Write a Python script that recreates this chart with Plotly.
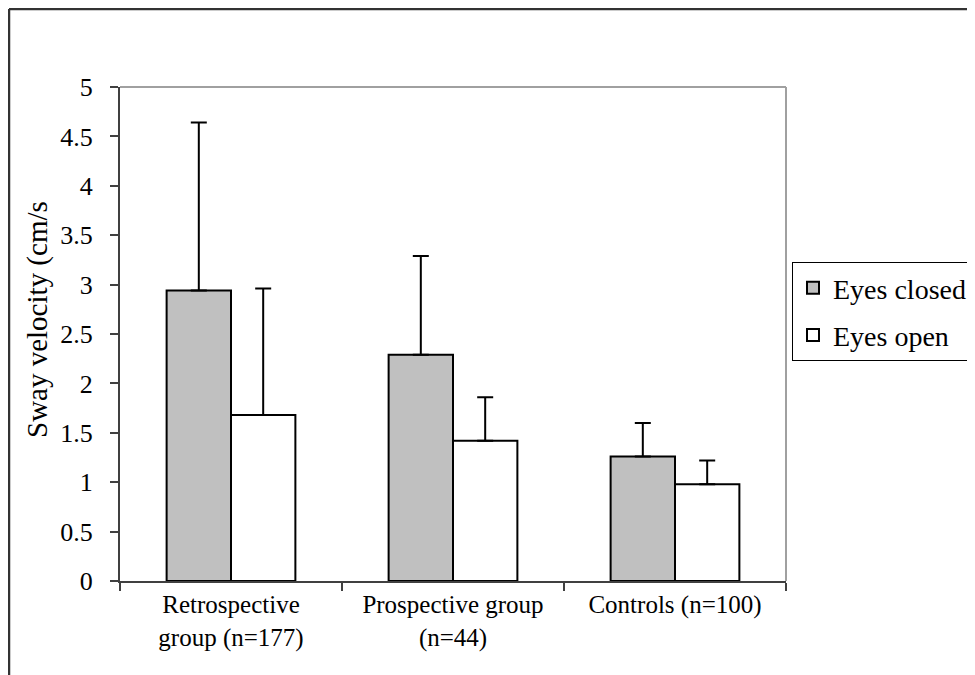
import plotly.graph_objects as go

categories = ["Retrospective<br>group (n=177)", "Prospective group<br>(n=44)", "Controls (n=100)"]
eyes_closed = [2.94, 2.29, 1.26]
eyes_closed_err = [1.70, 1.00, 0.34]
eyes_open = [1.68, 1.42, 0.98]
eyes_open_err = [1.28, 0.44, 0.24]
y_ticks = [0, 0.5, 1, 1.5, 2, 2.5, 3, 3.5, 4, 4.5, 5]

FONT = "Liberation Serif, Times New Roman, serif"

fig = go.Figure()
fig.add_trace(go.Bar(
    x=categories, y=eyes_closed, name="Eyes closed",
    marker=dict(color="#c0c0c0", line=dict(color="black", width=2)),
    error_y=dict(type="data", array=eyes_closed_err, symmetric=False,
                 arrayminus=[0, 0, 0], color="black", thickness=2, width=8),
    legendgroup="a",
))
fig.add_trace(go.Bar(
    x=categories, y=eyes_open, name="Eyes open",
    marker=dict(color="white", line=dict(color="black", width=2)),
    error_y=dict(type="data", array=eyes_open_err, symmetric=False,
                 arrayminus=[0, 0, 0], color="black", thickness=2, width=8),
    legendgroup="b",
))

# page body has an 8px margin; positions below are in figure pixels
OFF = 8
W, H = 975 - OFF, 675 - OFF
L, T = 120 - OFF, 87 - OFF
PW, PH = 666, 494
R = W - L - PW
B = H - T - PH


def px_x(x):  # screen px -> paper
    return (x - OFF - L) / PW


def px_y(y):
    return (T + PH - (y - OFF)) / PH


fig.update_layout(
    width=W, height=H,
    margin=dict(l=L, r=R, t=T, b=B, pad=0, autoexpand=False),
    paper_bgcolor="white", plot_bgcolor="white",
    barmode="group", bargap=0.42, bargroupgap=0,
    font=dict(family=FONT, color="black"),
    showlegend=True,
    legend=dict(
        x=px_x(792), y=px_y(262), xanchor="left", yanchor="top",
        bgcolor="white", bordercolor="black", borderwidth=1,
        font=dict(family=FONT, size=28, color="black"),
        tracegroupgap=8, itemwidth=30,
    ),
    xaxis=dict(
        type="category", showline=True, linecolor="#404040", linewidth=2,
        ticks="outside", tickson="boundaries", ticklen=8, tickcolor="#404040",
        tickwidth=2, showgrid=False, zeroline=False,
        tickfont=dict(family=FONT, size=25, color="black"),
    ),
    yaxis=dict(
        range=[0, 5], tickvals=y_ticks, showline=True, linecolor="#404040",
        linewidth=2, ticks="outside", ticklen=8, tickcolor="#404040", tickwidth=2,
        showgrid=False, zeroline=False, ticklabelstandoff=12,
        tickfont=dict(family=FONT, size=26, color="black"),
    ),
    annotations=[dict(
        text="Sway velocity (cm/s", textangle=-90, showarrow=False,
        xref="paper", yref="paper", x=px_x(37), y=px_y(320),
        xanchor="center", yanchor="middle",
        font=dict(family=FONT, size=29, color="black"),
    )],
    shapes=[
        dict(type="line", xref="paper", yref="paper", x0=0, x1=1, y0=1, y1=1,
             line=dict(color="#a0a0a0", width=2)),
        dict(type="line", xref="paper", yref="paper", x0=1, x1=1, y0=0, y1=1,
             line=dict(color="#a0a0a0", width=2)),
        dict(type="line", xref="paper", yref="paper", x0=px_x(9), x1=px_x(1000),
             y0=px_y(9), y1=px_y(9), line=dict(color="#333333", width=2.5)),
        dict(type="line", xref="paper", yref="paper", x0=px_x(9), x1=px_x(9),
             y0=px_y(9), y1=px_y(700), line=dict(color="#333333", width=2.5)),
    ],
)

fig.write_html("out.html")
